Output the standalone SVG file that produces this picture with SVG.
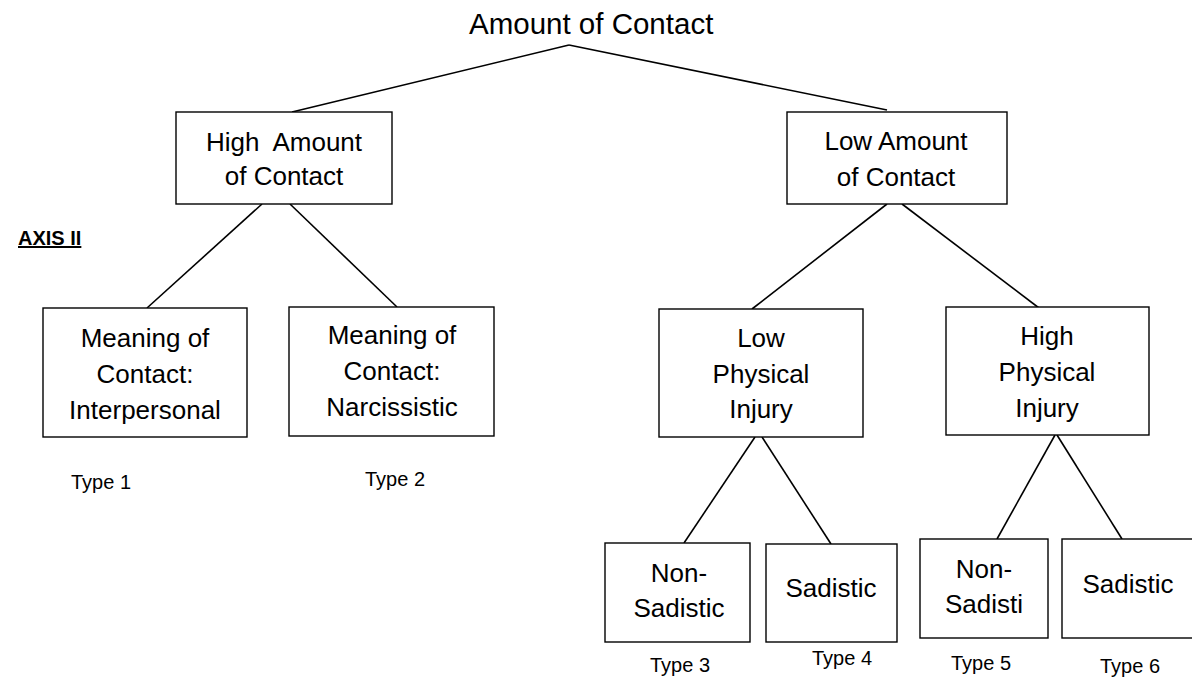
<svg xmlns="http://www.w3.org/2000/svg" width="1192" height="682" viewBox="0 0 1192 682">
<style>
.box{fill:#fff;stroke:#000;stroke-width:1.4}
.lbl{font-family:"Liberation Sans",Arial,sans-serif;font-size:26px;fill:#000;text-anchor:middle}
.typ{font-family:"Liberation Sans",Arial,sans-serif;font-size:20px;fill:#000;text-anchor:middle}
.edge{stroke:#000;stroke-width:1.6;fill:none}
</style>
<rect width="1192" height="682" fill="#fff"/>
<g id="connectors">
<line class="edge" x1="569" y1="45" x2="292" y2="112"/>
<line class="edge" x1="569" y1="45" x2="887" y2="110"/>
<line class="edge" x1="262" y1="204" x2="147" y2="308"/>
<line class="edge" x1="290" y1="204" x2="397" y2="307"/>
<line class="edge" x1="887" y1="204" x2="752" y2="309"/>
<line class="edge" x1="902" y1="204" x2="1039" y2="308"/>
<line class="edge" x1="755" y1="437" x2="684" y2="543"/>
<line class="edge" x1="762" y1="437" x2="831" y2="544"/>
<line class="edge" x1="1055" y1="435" x2="997" y2="539"/>
<line class="edge" x1="1057" y1="435" x2="1122" y2="539"/>
</g>
<g id="root">
<text x="469" y="34" font-family="Liberation Sans, Arial, sans-serif" font-size="29.5" fill="#000">Amount of Contact</text>
</g>
<g id="axis">
<text x="18" y="245" font-family="Liberation Sans, Arial, sans-serif" font-size="20" font-weight="bold" text-decoration="underline" fill="#000">AXIS II</text>
</g>
<g id="high-contact">
<rect class="box" x="176" y="112" width="216" height="92"/>
<text class="lbl" x="284" y="151" xml:space="preserve">High  Amount</text>
<text class="lbl" x="284" y="185">of Contact</text>
</g>
<g id="low-contact">
<rect class="box" x="787" y="112" width="220" height="92"/>
<text class="lbl" x="896" y="150">Low Amount</text>
<text class="lbl" x="896" y="186">of Contact</text>
</g>
<g id="interpersonal">
<rect class="box" x="43" y="308" width="204" height="129"/>
<text class="lbl" x="145" y="347">Meaning of</text>
<text class="lbl" x="145" y="383">Contact:</text>
<text class="lbl" x="145" y="419">Interpersonal</text>
</g>
<g id="narcissistic">
<rect class="box" x="289" y="307" width="205" height="129"/>
<text class="lbl" x="392" y="344">Meaning of</text>
<text class="lbl" x="392" y="380">Contact:</text>
<text class="lbl" x="392" y="416">Narcissistic</text>
</g>
<g id="low-injury">
<rect class="box" x="659" y="309" width="204" height="128"/>
<text class="lbl" x="761" y="347">Low</text>
<text class="lbl" x="761" y="383">Physical</text>
<text class="lbl" x="761" y="418">Injury</text>
</g>
<g id="high-injury">
<rect class="box" x="946" y="307" width="203" height="128"/>
<text class="lbl" x="1047" y="345">High</text>
<text class="lbl" x="1047" y="381">Physical</text>
<text class="lbl" x="1047" y="417">Injury</text>
</g>
<g id="non-sadistic-low">
<rect class="box" x="605" y="543" width="145" height="99"/>
<text class="lbl" x="679" y="582">Non-</text>
<text class="lbl" x="679" y="617">Sadistic</text>
</g>
<g id="sadistic-low">
<rect class="box" x="766" y="544" width="131" height="98"/>
<text class="lbl" x="831" y="597">Sadistic</text>
</g>
<g id="non-sadistic-high">
<rect class="box" x="920" y="539" width="128" height="99"/>
<text class="lbl" x="984" y="578">Non-</text>
<text class="lbl" x="984" y="613">Sadisti</text>
</g>
<g id="sadistic-high">
<rect class="box" x="1062" y="539" width="140" height="99"/>
<text class="lbl" x="1128" y="593">Sadistic</text>
</g>
<g id="types">
<text class="typ" x="101" y="489">Type 1</text>
<text class="typ" x="395" y="486">Type 2</text>
<text class="typ" x="680" y="672">Type 3</text>
<text class="typ" x="842" y="665">Type 4</text>
<text class="typ" x="981" y="670">Type 5</text>
<text class="typ" x="1130" y="673">Type 6</text>
</g>
</svg>
